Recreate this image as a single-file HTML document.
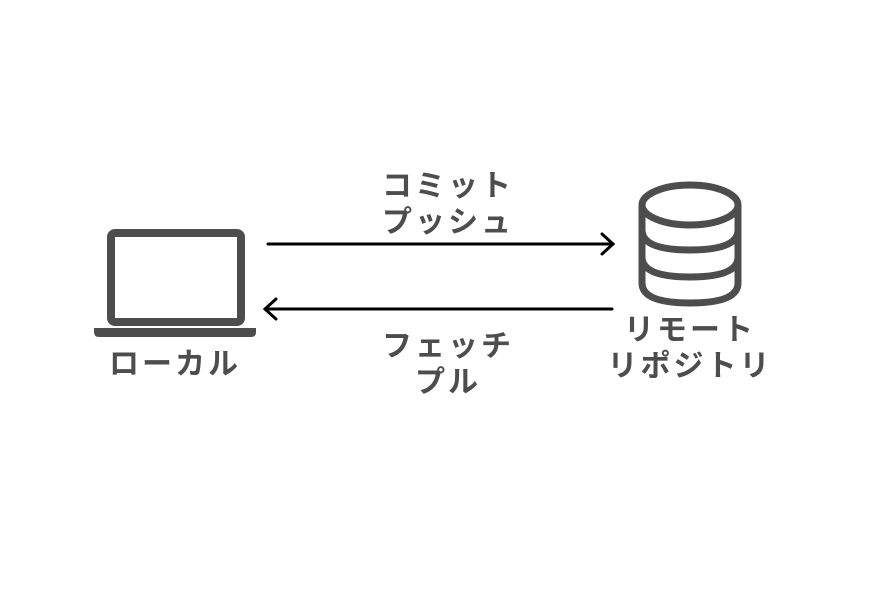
<!DOCTYPE html>
<html><head><meta charset="utf-8"><style>
body{margin:0;background:#fff;width:878px;height:588px;overflow:hidden}
svg text{font-family:"Liberation Sans","Noto Sans CJK JP",sans-serif;font-weight:bold;fill:#4d4d4d;font-size:30px;letter-spacing:3px}
</style></head><body>
<svg width="878" height="588" viewBox="0 0 878 588">
<rect x="111" y="233" width="130" height="89" rx="4" fill="none" stroke="#4d4d4d" stroke-width="8"/>
<path d="M94 328 H256 V332 Q256 337 251 337 H99 Q94 337 94 332 Z" fill="#4d4d4d"/>
<g fill="none" stroke="#4d4d4d" stroke-width="7">
<ellipse cx="690" cy="205" rx="48" ry="20"/>
<path d="M642 205 V283 Q642 303 690 303 Q738 303 738 283 V205"/>
<path d="M642 230 Q642 250 690 250 Q738 250 738 230"/>
<path d="M642 257 Q642 277 690 277 Q738 277 738 257"/>
</g>
<g stroke="#000" stroke-width="3" fill="none" stroke-linecap="round">
<line x1="268" y1="244" x2="612" y2="244"/><path d="M602 234 L613 244 L602 254"/>
<line x1="266" y1="309" x2="612" y2="309"/><path d="M276 299 L265 309 L276 319"/>
</g>
<text x="448" y="196" text-anchor="middle">コミット</text>
<text x="448" y="232" text-anchor="middle">プッシュ</text>
<text x="448" y="356" text-anchor="middle">フェッチ</text>
<text x="448" y="392" text-anchor="middle">プル</text>
<text x="175" y="374" text-anchor="middle">ローカル</text>
<text x="690" y="340" text-anchor="middle">リモート</text>
<text x="690" y="376" text-anchor="middle">リポジトリ</text>
</svg>
</body></html>
